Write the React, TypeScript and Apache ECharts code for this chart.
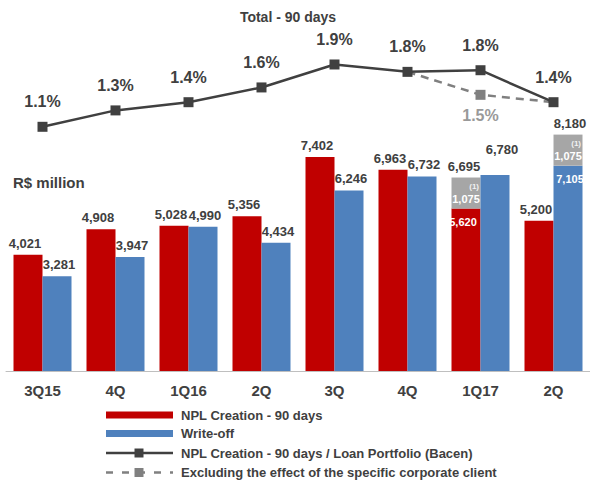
import React, { useEffect, useRef } from "react";
import * as echarts from "echarts";

const categories = ["3Q15", "4Q", "1Q16", "2Q", "3Q", "4Q", "1Q17", "2Q"];
const nplCreation = [4021, 4908, 5028, 5356, 7402, 6963, 5620, 5200];
const nplExtra = [null, null, null, null, null, null, 1075, null];
const writeOff = [3281, 3947, 4990, 4434, 6246, 6732, 6780, 7105];
const writeOffExtra = [null, null, null, null, null, null, null, 1075];
const ratio = [1.1, 1.3, 1.4, 1.58, 1.86, 1.77, 1.79, 1.4];
const ratioExcl = [null, null, null, null, null, 1.77, 1.49, 1.4];
const legendNames = [
  "NPL Creation - 90 days",
  "Write-off",
  "NPL Creation - 90 days / Loan Portfolio (Bacen)",
  "Excluding the effect of the specific corporate client",
];

const FONT = "'Liberation Sans', Arial, sans-serif";
const DARK = "#404040";
const RED = "#C00000";
const BLUE = "#4F81BD";
const GRAY = "#A6A6A6";
const LGRAY = "#808080";

const fmt = (v: number) => v.toLocaleString("en-US");

export default function App() {
  const ref = useRef<HTMLDivElement>(null);
  useEffect(() => {
    if (!ref.current) return;
    const chart = echarts.init(ref.current, null, { renderer: "svg" });
    const totalR = nplExtra.map((e) => (e == null ? null : 0));
    const totalB = writeOffExtra.map((e) => (e == null ? null : 0));
    const barLabel = (dx: number) => ({
      show: true,
      position: "top",
      distance: 5,
      offset: [dx, 0],
      color: DARK,
      fontFamily: FONT,
      fontWeight: "bold",
      fontSize: 13,
      formatter: (p: any) => fmt(p.value),
    });
    const insideLabel = {
      show: true,
      position: "insideTop",
      distance: 8,
      color: "#ffffff",
      fontFamily: FONT,
      fontWeight: "bold",
      fontSize: 11,
      formatter: (p: any) => fmt(p.value),
    };
    const extraLabel = {
      show: true,
      position: "inside",
      fontFamily: FONT,
      fontWeight: "bold",
      color: "#ffffff",
      formatter: (p: any) => `{a|(1)}\n{b|${fmt(p.value)}}`,
      rich: {
        a: { fontSize: 8, width: 26, align: "right", color: "#f2f2f2", fontWeight: "bold", fontFamily: FONT, lineHeight: 12 },
        b: { fontSize: 11, width: 26, align: "center", color: "#ffffff", fontWeight: "bold", fontFamily: FONT, lineHeight: 14 },
      },
    };

    const lx0 = 106;
    const lx1 = 173;
    const rows = [415, 433.5, 453, 472.5];
    const legendGraphics: any[] = [
      { type: "rect", shape: { x: lx0, y: rows[0] - 3.5, width: lx1 - lx0, height: 7 }, style: { fill: RED } },
      { type: "rect", shape: { x: lx0, y: rows[1] - 3.5, width: lx1 - lx0, height: 7 }, style: { fill: BLUE } },
      { type: "line", shape: { x1: lx0, y1: rows[2], x2: lx1, y2: rows[2] }, style: { stroke: DARK, lineWidth: 2.5 } },
      { type: "rect", shape: { x: 134.5, y: rows[2] - 4.5, width: 9, height: 9 }, style: { fill: DARK } },
      { type: "line", shape: { x1: lx0, y1: rows[3], x2: lx1, y2: rows[3] }, style: { stroke: LGRAY, lineWidth: 2.5, lineDash: [7, 9] } },
      { type: "rect", shape: { x: 134.5, y: rows[3] - 4.5, width: 9, height: 9 }, style: { fill: LGRAY } },
      ...legendNames.map((n, i) => ({
        type: "text",
        x: 181,
        y: rows[i],
        style: { text: n, fill: DARK, font: `bold 13px ${FONT}`, textVerticalAlign: "middle" },
      })),
    ];

    chart.setOption({
      animation: false,
      textStyle: { fontFamily: FONT },
      grid: [
        { left: 6, width: 592, top: 82, height: 289 },
        { left: 6, width: 592, top: 12, height: 164 },
      ],
      xAxis: [
        {
          type: "category",
          data: categories,
          gridIndex: 0,
          axisTick: { show: false },
          axisLine: { lineStyle: { color: "#BFBFBF", width: 1 } },
          axisLabel: { color: DARK, fontWeight: "bold", fontSize: 15, fontFamily: FONT, margin: 12 },
        },
        {
          type: "category",
          data: categories,
          gridIndex: 1,
          show: false,
        },
      ],
      yAxis: [
        { type: "value", gridIndex: 0, min: 0, max: 10000, show: false, splitLine: { show: false } },
        { type: "value", gridIndex: 1, min: 0.5, max: 2.5, show: false, splitLine: { show: false } },
      ],
      graphic: [
        {
          type: "text",
          x: 13,
          y: 182,
          style: { text: "R$ million", fill: DARK, font: `bold 15px ${FONT}`, textVerticalAlign: "middle" },
        },
        {
          type: "text",
          x: 288,
          y: 17,
          style: { text: "Total - 90 days", fill: DARK, font: `bold 14px ${FONT}`, textAlign: "center", textVerticalAlign: "middle" },
        },
        ...legendGraphics,
      ],
      series: [
        {
          name: legendNames[0],
          type: "bar",
          stack: "r",
          barWidth: 29,
          barGap: "0%",
          itemStyle: { color: RED },
          data: nplCreation.map((v, i) =>
            nplExtra[i] != null ? { value: v, label: insideLabel } : v
          ),
          label: barLabel(-3),
        },
        {
          name: "nplExtra",
          type: "bar",
          stack: "r",
          barWidth: 29,
          itemStyle: { color: GRAY },
          data: nplExtra,
          label: extraLabel,
        },
        {
          name: "totR",
          type: "bar",
          stack: "r",
          barWidth: 29,
          itemStyle: { color: "transparent" },
          data: totalR,
          label: {
            ...barLabel(-2),
            formatter: (p: any) => fmt((nplCreation[p.dataIndex] as number) + (nplExtra[p.dataIndex] as number)),
          },
        },
        {
          name: legendNames[1],
          type: "bar",
          stack: "b",
          barWidth: 29,
          barGap: "0%",
          itemStyle: { color: BLUE },
          data: writeOff.map((v, i) =>
            writeOffExtra[i] != null
              ? { value: v, label: insideLabel }
              : nplExtra[i] != null
              ? { value: v, label: { offset: [7, -14] } }
              : v
          ),
          label: barLabel(2),
        },
        {
          name: "woExtra",
          type: "bar",
          stack: "b",
          barWidth: 29,
          itemStyle: { color: GRAY },
          data: writeOffExtra,
          label: extraLabel,
        },
        {
          name: "totB",
          type: "bar",
          stack: "b",
          barWidth: 29,
          itemStyle: { color: "transparent" },
          data: totalB,
          label: {
            ...barLabel(2),
            formatter: (p: any) => fmt((writeOff[p.dataIndex] as number) + (writeOffExtra[p.dataIndex] as number)),
          },
        },
        {
          name: legendNames[3],
          type: "line",
          xAxisIndex: 1,
          yAxisIndex: 1,
          symbol: "rect",
          symbolSize: 10,
          itemStyle: { color: LGRAY },
          lineStyle: { color: LGRAY, width: 2.5, type: [8, 6] },
          data: ratioExcl.map((v, i) =>
            v == null ? v : i === 6 ? { value: v } : { value: v, symbol: "none" }
          ),
          label: {
            show: true,
            position: "bottom",
            distance: 8,
            color: "#999999",
            fontWeight: "bold",
            fontSize: 16,
            fontFamily: FONT,
            formatter: (p: any) => (p.dataIndex === 6 ? p.value.toFixed(1) + "%" : ""),
          },
          z: 3,
        },
        {
          name: legendNames[2],
          type: "line",
          xAxisIndex: 1,
          yAxisIndex: 1,
          symbol: "rect",
          symbolSize: 10,
          itemStyle: { color: DARK },
          lineStyle: { color: DARK, width: 2.5 },
          data: ratio,
          label: {
            show: true,
            position: "top",
            distance: 12,
            color: DARK,
            fontWeight: "bold",
            fontSize: 16,
            fontFamily: FONT,
            formatter: (p: any) => p.value.toFixed(1) + "%",
          },
          z: 4,
        },
      ],
    });
    return () => chart.dispose();
  }, []);
  return (
    <div
      ref={ref}
      style={{ position: "absolute", left: 0, top: 0, width: 590, height: 481, background: "#fff" }}
    />
  );
}
